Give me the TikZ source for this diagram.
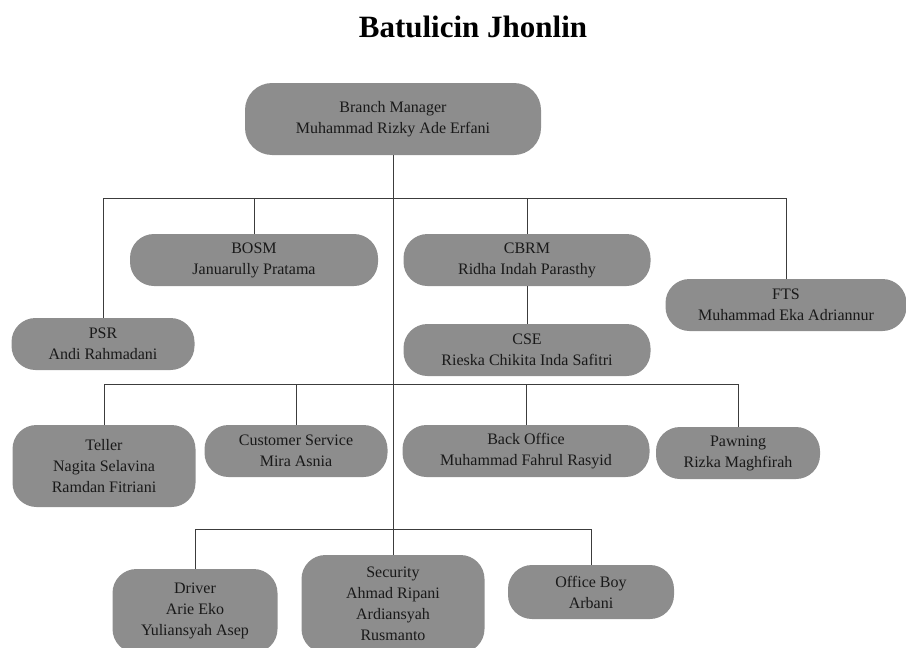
\documentclass[tikz,border=0pt]{standalone}
\usepackage{fontspec}
\setmainfont{Liberation Serif}
\usetikzlibrary{calc}
\definecolor{boxgray}{RGB}{141,141,141}
\definecolor{linegray}{RGB}{60,60,60}
\tikzset{
  unit/.style={fill=boxgray, rounded corners=24pt, align=center, inner sep=0pt,
    text=black!90, font=\fontsize{16}{21}\selectfont},
  pill/.style={unit, minimum height=52pt},
  link/.style={draw=linegray, line width=0.7pt}
}

\begin{document}
\begin{tikzpicture}[x=1pt,y=-1pt]
  \useasboundingbox (0,0) rectangle (906,648);
  \clip (0,0) rectangle (906,648);

  \node[anchor=base, font=\bfseries\fontsize{31}{36}\selectfont] (title) at (473,37) {Batulicin Jhonlin};

  % top
  \node[unit, rounded corners=27pt, minimum width=296pt, minimum height=72pt] (bm) at (393,119)
	{Branch Manager\\Muhammad Rizky Ade Erfani};

  % first row
  \node[pill, minimum width=248pt] (bosm) at (254,260) {BOSM\\Januarully Pratama};
  \node[pill, minimum width=183pt] (psr) at (103,344) {PSR\\Andi Rahmadani};
  \node[pill, minimum width=247pt] (cbrm) at (527,260) {CBRM\\Ridha Indah Parasthy};
  \node[pill, minimum width=247pt] (cse) at (527,350) {CSE\\Rieska Chikita Inda Safitri};
  \node[pill, minimum width=241pt] (fts) at (786,305) {FTS\\Muhammad Eka Adriannur};

  % second row
  \node[unit, minimum width=183pt, minimum height=82pt] (teller) at (104,466)
	{Teller\\Nagita Selavina\\Ramdan Fitriani};
  \node[pill, minimum width=183pt] (cs) at (296,451) {Customer Service\\Mira Asnia};
  \node[pill, minimum width=247pt] (bo) at (526,451) {Back Office\\Muhammad Fahrul Rasyid};
  \node[pill, minimum width=164pt] (pawn) at (738,453) {Pawning\\Rizka Maghfirah};

  % third row
  \node[unit, minimum width=165pt, minimum height=84pt] (driver) at (195,611)
	{Driver\\Arie Eko\\Yuliansyah Asep};
  \node[unit, minimum width=183pt, minimum height=98pt] (sec) at (393,604)
	{Security\\Ahmad Ripani\\Ardiansyah\\Rusmanto};
  \node[pill, minimum width=166pt, minimum height=54pt] (ob) at (591,592) {Office Boy\\Arbani};

  \coordinate (busA) at (393,198);
  \coordinate (busB) at (393,384);
  \coordinate (busC) at (393,529);

  \path[link] (bm) -- (sec);
  \path[link]
	(psr.north) -- (psr.north |- busA) -- (fts.north |- busA) -- (fts.north)
	(bosm.north) -- (bosm.north |- busA)
	(cbrm.north) -- (cbrm.north |- busA)
	(cbrm) -- (cse);
  \path[link]
	(teller.north) -- (teller.north |- busB) -- (pawn.north |- busB) -- (pawn.north)
	(cs.north) -- (cs.north |- busB)
	(bo.north) -- (bo.north |- busB);
  \path[link]
	(driver.north) -- (driver.north |- busC) -- (ob.north |- busC) -- (ob.north);
\end{tikzpicture}
\end{document}
